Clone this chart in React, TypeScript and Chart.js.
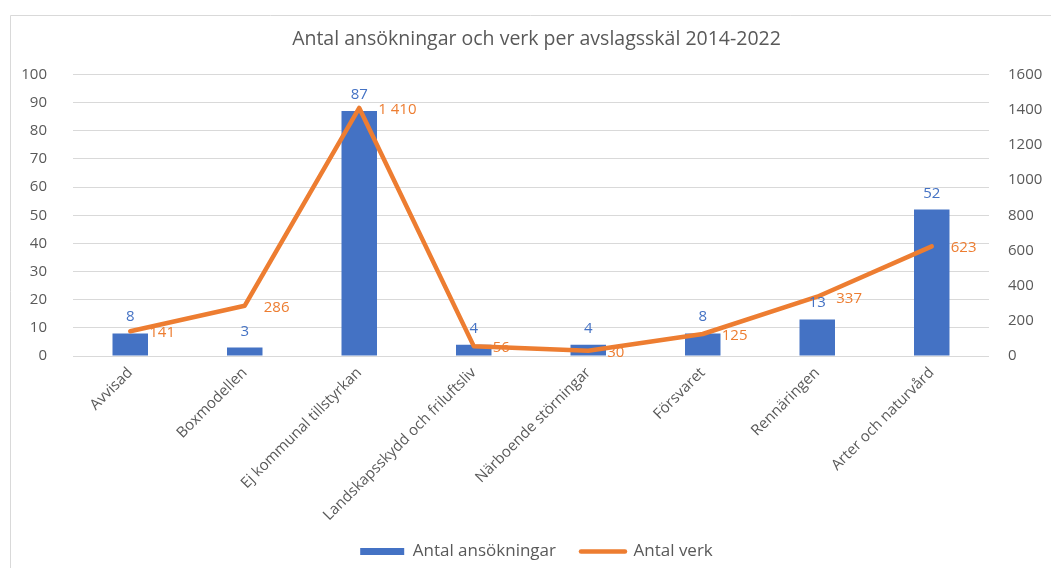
import { useEffect, useRef } from 'react';
import { Chart, registerables } from 'chart.js';

Chart.register(...registerables);

const TITLE = 'Antal ansökningar och verk per avslagsskäl 2014-2022';
const categories = [
  'Avvisad',
  'Boxmodellen',
  'Ej kommunal tillstyrkan',
  'Landskapsskydd och friluftsliv',
  'Närboende störningar',
  'Försvaret',
  'Rennäringen',
  'Arter och naturvård',
];
const applications = [8, 3, 87, 4, 4, 8, 13, 52];
const turbines = [141, 286, 1410, 56, 30, 125, 337, 623];
const seriesNames = ['Antal ansökningar', 'Antal verk'];
const leftAxis = { min: 0, max: 100, step: 10 };
const rightAxis = { min: 0, max: 1600, step: 200 };

const BLUE = '#4472C4';
const ORANGE = '#ED7D31';
const TEXT = '#595959';
const GRID = '#D9D9D9';
const FONT = '"Open Sans", sans-serif';

const fmt = (v: number) => String(v).replace(/\B(?=(\d{3})+(?!\d))/g, ' ');

const framePlugin = {
  id: 'frame',
  beforeDraw(chart: any) {
    const ctx = chart.ctx;
    ctx.save();
    ctx.strokeStyle = GRID;
    ctx.lineWidth = 1;
    ctx.beginPath();
    ctx.moveTo(10.5, chart.height);
    ctx.lineTo(10.5, 15.5);
    ctx.lineTo(chart.width, 15.5);
    ctx.stroke();
    ctx.restore();
  },
};

const layoutTweakPlugin = {
  id: 'layoutTweak',
  afterLayout(chart: any) {
    if (chart.legend) {
      chart.legend.top += 2;
      chart.legend.bottom += 2;
    }
    // let the rotated category labels run past the axis box instead of being clipped
    if (chart.scales.x) {
      chart.scales.x.bottom = chart.height;
    }
  },
};

const valueLabelPlugin = {
  id: 'valueLabels',
  afterDatasetsDraw(chart: any) {
    const ctx = chart.ctx;
    ctx.save();
    ctx.font = `15px ${FONT}`;
    ctx.textBaseline = 'alphabetic';
    const barMeta = chart.getDatasetMeta(0);
    ctx.fillStyle = BLUE;
    ctx.textAlign = 'center';
    barMeta.data.forEach((el: any, i: number) => {
      ctx.fillText(fmt(applications[i]), el.x, el.y - 12);
    });
    const lineMeta = chart.getDatasetMeta(1);
    ctx.fillStyle = ORANGE;
    ctx.textAlign = 'left';
    lineMeta.data.forEach((el: any, i: number) => {
      ctx.fillText(fmt(turbines[i]), el.x + 19, el.y + 6);
    });
    ctx.restore();
  },
};

export default function App() {
  const canvasRef = useRef<HTMLCanvasElement | null>(null);

  useEffect(() => {
    if (!canvasRef.current) return;
    const chart = new Chart(canvasRef.current, {
      type: 'bar',
      data: {
        labels: categories,
        datasets: [
          {
            type: 'bar',
            label: seriesNames[0],
            data: applications,
            backgroundColor: BLUE,
            borderWidth: 0,
            yAxisID: 'y',
            order: 2,
            categoryPercentage: 1,
            barPercentage: 0.31,
          } as any,
          {
            type: 'line',
            label: seriesNames[1],
            data: turbines,
            borderColor: ORANGE,
            backgroundColor: ORANGE,
            borderWidth: 4.5,
            borderCapStyle: 'round',
            borderJoinStyle: 'round',
            pointRadius: 0,
            pointHoverRadius: 0,
            tension: 0,
            yAxisID: 'y1',
            order: 1,
          } as any,
        ],
      },
      options: {
        animation: false,
        responsive: true,
        maintainAspectRatio: false,
        layout: { padding: { left: 22, right: 0, top: 15, bottom: 0 } },
        plugins: {
          title: {
            display: true,
            text: TITLE,
            color: TEXT,
            font: { family: FONT, size: 19.5, weight: 'normal', lineHeight: 1 },
            padding: { top: 15, bottom: 25 },
          },
          legend: {
            display: true,
            position: 'bottom',
            labels: {
              color: TEXT,
              font: { family: FONT, size: 17 },
              usePointStyle: true,
              pointStyleWidth: 44,
              boxHeight: 7,
              padding: 25,
              sort: (a: any, b: any) => a.datasetIndex - b.datasetIndex,
              generateLabels: (chart: any) => {
                const items = Chart.defaults.plugins.legend.labels.generateLabels(chart);
                return items.map((it: any) => {
                  if (it.datasetIndex === 0) {
                    return { ...it, pointStyle: 'rect', lineWidth: 0, strokeStyle: BLUE };
                  }
                  return { ...it, pointStyle: 'line', lineWidth: 4.5, lineCap: 'round', strokeStyle: ORANGE };
                });
              },
            },
          },
          tooltip: { enabled: false },
        },
        scales: {
          x: {
            grid: { display: false },
            border: { display: false },
            ticks: {
              color: TEXT,
              font: { family: FONT, size: 15 },
              minRotation: 45,
              maxRotation: 45,
              padding: 0,
              autoSkip: false,
            },
            afterFit: (scale: any) => {
              scale.height = 160;
            },
          },
          y: {
            position: 'left',
            min: leftAxis.min,
            max: leftAxis.max,
            grid: { color: GRID, drawTicks: false, lineWidth: 1 },
            border: { display: false },
            ticks: {
              stepSize: leftAxis.step,
              color: TEXT,
              font: { family: FONT, size: 15 },
              padding: 26,
            },
            afterFit: (scale: any) => {
              scale.width = 51;
            },
          },
          y1: {
            position: 'right',
            min: rightAxis.min,
            max: rightAxis.max,
            grid: { display: false, drawTicks: false },
            border: { display: false },
            ticks: {
              stepSize: rightAxis.step,
              color: TEXT,
              font: { family: FONT, size: 15 },
              padding: 19,
              callback: (v: any) => String(v),
            },
            afterFit: (scale: any) => {
              scale.width = 62;
            },
          },
        },
      },
      plugins: [framePlugin, layoutTweakPlugin, valueLabelPlugin],
    });
    return () => chart.destroy();
  }, []);

  return (
    <div style={{ position: 'absolute', left: 0, top: 0, width: 1051, height: 568, background: '#fff' }}>
      <canvas ref={canvasRef} />
    </div>
  );
}
